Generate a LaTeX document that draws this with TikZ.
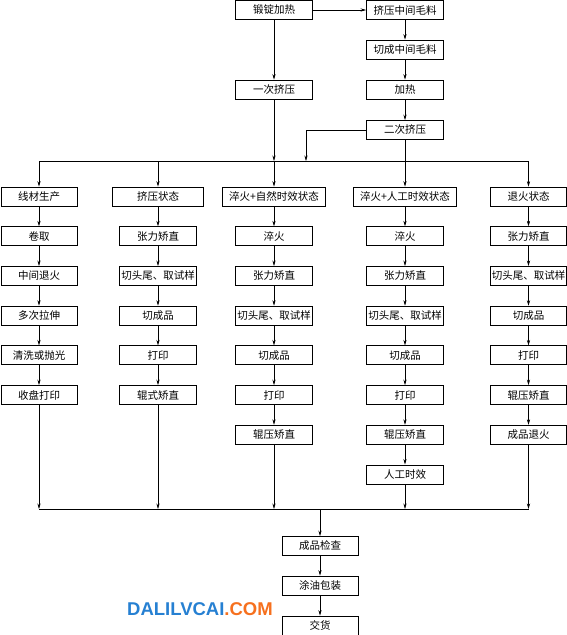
\documentclass[tikz,border=0pt]{standalone}
\usepackage{fontspec}
\setmainfont{Noto Sans CJK SC}
\newfontfamily\wmfont{Liberation Sans}
\usetikzlibrary{arrows.meta,positioning}
\definecolor{wmblue}{RGB}{38,128,210}
\definecolor{wmorange}{RGB}{246,112,30}

\begin{document}
\begin{tikzpicture}[x=1pt,y=-1pt,
  node distance=19.9pt,
  box/.style={draw,line width=0.8pt,minimum width=77pt,minimum height=19pt,inner sep=0pt,font=\fontsize{10.5}{12}\selectfont},
  narrow/.style={box,minimum width=76pt},
  wide/.style={box,minimum width=103pt},
  ar/.style={-{Stealth[length=5.5pt,width=3.2pt]},line width=0.6pt},
  ln/.style={line width=0.6pt}]
\useasboundingbox (0,0) rectangle (567,635);

% upstream
\node[box] (H) at (274,10) {锻锭加热};
\node[box] (P) at (405,10) {挤压中间毛料};
\node[box] (Q) at (405,49.5) {切成中间毛料};
\node[box] (R) at (405,89.5) {加热};
\node[box] (E1) at (274,89.5) {一次挤压};
\node[box] (E2) at (405,130) {二次挤压};

\coordinate (busL) at (39,161);
\coordinate (busR) at (528.5,161);
\coordinate (side) at (306,161);

% five tempers
\node[narrow] (a1) at (39,196.5) {线材生产};
\node[narrow,below=of a1] (a2) {卷取};
\node[narrow,below=of a2] (a3) {中间退火};
\node[narrow,below=of a3] (a4) {多次拉伸};
\node[narrow,below=of a4] (a5) {清洗或抛光};
\node[narrow,below=of a5] (a6) {收盘打印};

\node[box,minimum width=91pt] (b1) at (158,196.5) {挤压状态};
\node[box,below=of b1] (b2) {张力矫直};
\node[box,below=of b2] (b3) {切头尾、取试样};
\node[box,below=of b3] (b4) {切成品};
\node[box,below=of b4] (b5) {打印};
\node[box,below=of b5] (b6) {辊式矫直};

\node[wide] (c1) at (274,196.5) {淬火+自然时效状态};
\node[box,below=of c1] (c2) {淬火};
\node[box,below=of c2] (c3) {张力矫直};
\node[box,below=of c3] (c4) {切头尾、取试样};
\node[box,below=of c4] (c5) {切成品};
\node[box,below=of c5] (c6) {打印};
\node[box,below=of c6] (c7) {辊压矫直};

\node[wide] (d1) at (405,196.5) {淬火+人工时效状态};
\node[box,below=of d1] (d2) {淬火};
\node[box,below=of d2] (d3) {张力矫直};
\node[box,below=of d3] (d4) {切头尾、取试样};
\node[box,below=of d4] (d5) {切成品};
\node[box,below=of d5] (d6) {打印};
\node[box,below=of d6] (d7) {辊压矫直};
\node[box,below=of d7] (d8) {人工时效};

\node[narrow] (e1) at (528.5,196.5) {退火状态};
\node[narrow,below=of e1] (e2) {张力矫直};
\node[narrow,below=of e2] (e3) {切头尾、取试样};
\node[narrow,below=of e3] (e4) {切成品};
\node[narrow,below=of e4] (e5) {打印};
\node[narrow,below=of e5] (e6) {辊压矫直};
\node[narrow,below=of e6] (e7) {成品退火};

% finishing
\coordinate (endL) at (39,509);
\coordinate (endR) at (528.5,509);
\node[narrow] (K) at (320,546) {成品检查};
\node[narrow] (T) at (320,585.5) {涂油包装};
\node[narrow] (D) at (320,625.5) {交货};

\node[font=\wmfont\bfseries\fontsize{18.5}{20}\selectfont,inner sep=0pt] (W) at (200,609.5)
  {\textcolor{wmblue}{DALILVCAI}\textcolor{wmorange}{.COM}};

\draw[ar] (H) -- (P);
\draw[ar] (H) -- (E1);
\draw[ar] (P) edge (Q) (Q) edge (R) (R) edge (E2);
\draw[ar] (E1) -- (E1 |- busL);
\draw[ar] (E2) -| (side);
\draw[ar] (E2) -- (d1);
\draw[ln] (busL) -- (busR);
\draw[ar] (busL) -- (a1);
\draw[ar] (b1 |- busL) -- (b1);
\draw[ar] (c1 |- busL) -- (c1);
\draw[ar] (busR) -- (e1);

\draw[ar] (a1) edge (a2) (a2) edge (a3) (a3) edge (a4) (a4) edge (a5) (a5) edge (a6);
\draw[ar] (b1) edge (b2) (b2) edge (b3) (b3) edge (b4) (b4) edge (b5) (b5) edge (b6);
\draw[ar] (c1) edge (c2) (c2) edge (c3) (c3) edge (c4) (c4) edge (c5) (c5) edge (c6) (c6) edge (c7);
\draw[ar] (d1) edge (d2) (d2) edge (d3) (d3) edge (d4) (d4) edge (d5) (d5) edge (d6) (d6) edge (d7) (d7) edge (d8);
\draw[ar] (e1) edge (e2) (e2) edge (e3) (e3) edge (e4) (e4) edge (e5) (e5) edge (e6) (e6) edge (e7);

\draw[ar] (a6) -- (a6 |- endL);
\draw[ar] (b6) -- (b6 |- endL);
\draw[ar] (c7) -- (c7 |- endL);
\draw[ar] (d8) -- (d8 |- endL);
\draw[ar] (e7) -- (e7 |- endL);
\draw[ln] (endL) -- (endR);
\draw[ar] (K |- endL) -- (K);
\draw[ar] (K) -- (T);
\draw[ar] (T) -- (D);
\end{tikzpicture}
\end{document}
